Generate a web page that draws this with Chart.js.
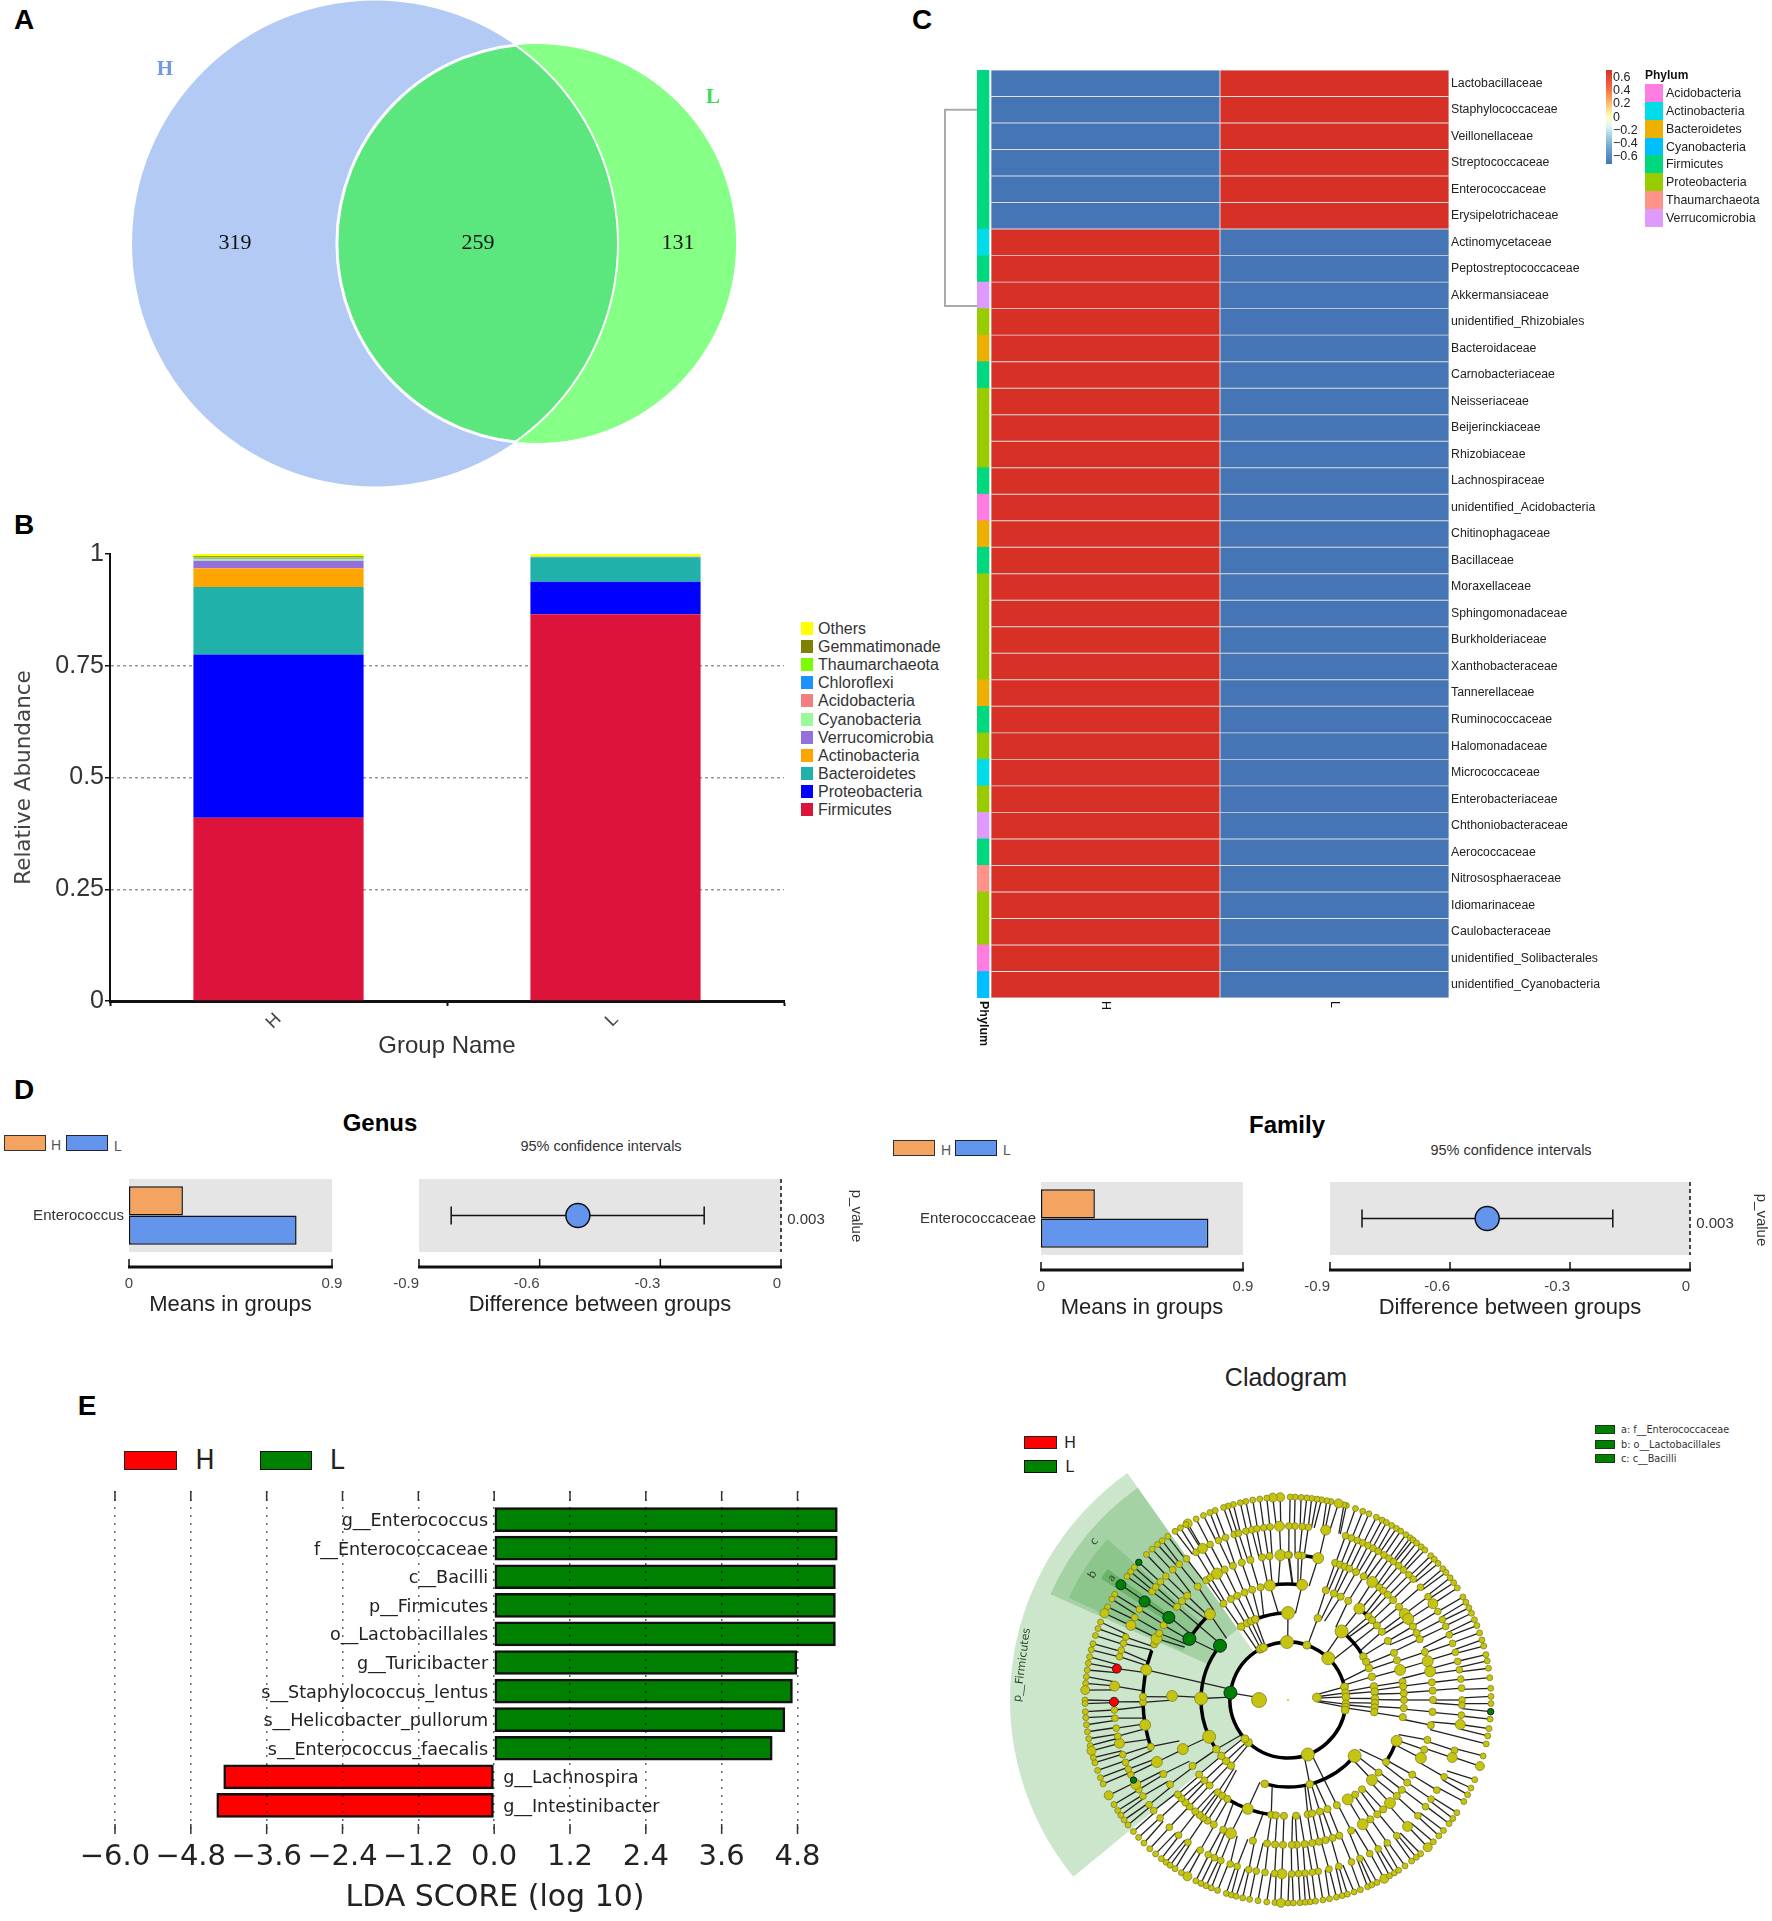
<!DOCTYPE html>
<html>
<head>
<meta charset="utf-8">
<script src="https://cdn.jsdelivr.net/npm/chart.js@4"></script>
<style>
  html, body { margin: 0; background: #fff; }
  #page { position: relative; width: 1772px; height: 1921px; overflow: hidden; }
  canvas { position: absolute; }
  .t { position: absolute; white-space: nowrap; transform: translate(-50%, -50%); }
  .s { position: absolute; box-sizing: border-box; }
</style>
</head>
<body>
<div id="page"></div>
<script>
// panel A
const vennOnlyH = 319;
const vennShared = 259;
const vennOnlyL = 131;

// panel B
const groups = ['H', 'L'];
const phyla = ['Firmicutes', 'Proteobacteria', 'Bacteroidetes', 'Actinobacteria', 'Verrucomicrobia', 'Cyanobacteria', 'Acidobacteria', 'Chloroflexi', 'Thaumarchaeota', 'Gemmatimonade', 'Others'];
const abundanceH = [0.41, 0.365, 0.151, 0.042, 0.017, 0.004, 0.001, 0.001, 0.001, 0.003, 0.005];
const abundanceL = [0.865, 0.073, 0.055, 0.0005, 0.0003, 0.0001, 0.0001, 0, 0, 0, 0.006];
const phylaColors = ['#dc143c', '#0000ff', '#20b2aa', '#ffa500', '#9370db', '#98fb98', '#f08080', '#1e90ff', '#7cfc00', '#808000', '#ffff00'];
const abundanceTicks = [0, 0.25, 0.5, 0.75, 1];

// panel C
const families = ['Lactobacillaceae', 'Staphylococcaceae', 'Veillonellaceae', 'Streptococcaceae', 'Enterococcaceae', 'Erysipelotrichaceae', 'Actinomycetaceae', 'Peptostreptococcaceae', 'Akkermansiaceae', 'unidentified_Rhizobiales', 'Bacteroidaceae', 'Carnobacteriaceae', 'Neisseriaceae', 'Beijerinckiaceae', 'Rhizobiaceae', 'Lachnospiraceae', 'unidentified_Acidobacteria', 'Chitinophagaceae', 'Bacillaceae', 'Moraxellaceae', 'Sphingomonadaceae', 'Burkholderiaceae', 'Xanthobacteraceae', 'Tannerellaceae', 'Ruminococcaceae', 'Halomonadaceae', 'Micrococcaceae', 'Enterobacteriaceae', 'Chthoniobacteraceae', 'Aerococcaceae', 'Nitrososphaeraceae', 'Idiomarinaceae', 'Caulobacteraceae', 'unidentified_Solibacterales', 'unidentified_Cyanobacteria'];
const familyPhylum = ['Firmicutes', 'Firmicutes', 'Firmicutes', 'Firmicutes', 'Firmicutes', 'Firmicutes', 'Actinobacteria', 'Firmicutes', 'Verrucomicrobia', 'Proteobacteria', 'Bacteroidetes', 'Firmicutes', 'Proteobacteria', 'Proteobacteria', 'Proteobacteria', 'Firmicutes', 'Acidobacteria', 'Bacteroidetes', 'Firmicutes', 'Proteobacteria', 'Proteobacteria', 'Proteobacteria', 'Proteobacteria', 'Bacteroidetes', 'Firmicutes', 'Proteobacteria', 'Actinobacteria', 'Proteobacteria', 'Verrucomicrobia', 'Firmicutes', 'Thaumarchaeota', 'Proteobacteria', 'Proteobacteria', 'Acidobacteria', 'Cyanobacteria'];
const heatH = [-0.7, -0.7, -0.7, -0.7, -0.7, -0.7, 0.7, 0.7, 0.7, 0.7, 0.7, 0.7, 0.7, 0.7, 0.7, 0.7, 0.7, 0.7, 0.7, 0.7, 0.7, 0.7, 0.7, 0.7, 0.7, 0.7, 0.7, 0.7, 0.7, 0.7, 0.7, 0.7, 0.7, 0.7, 0.7];
const heatL = [0.7, 0.7, 0.7, 0.7, 0.7, 0.7, -0.7, -0.7, -0.7, -0.7, -0.7, -0.7, -0.7, -0.7, -0.7, -0.7, -0.7, -0.7, -0.7, -0.7, -0.7, -0.7, -0.7, -0.7, -0.7, -0.7, -0.7, -0.7, -0.7, -0.7, -0.7, -0.7, -0.7, -0.7, -0.7];
const phylumKeys = ['Acidobacteria', 'Actinobacteria', 'Bacteroidetes', 'Cyanobacteria', 'Firmicutes', 'Proteobacteria', 'Thaumarchaeota', 'Verrucomicrobia'];
const phylumKeyColors = ['#ff7ce0', '#00dde8', '#eeb000', '#00bfff', '#00d880', '#99cc00', '#ff9289', '#df9bfb'];
const colorbarTicks = ['0.6', '0.4', '0.2', '0', '\u22120.2', '\u22120.4', '\u22120.6'];

// panel D
const meansTicks = [0, 0.9];
const meansTickLabels = ['0', '0.9'];
const diffTicks = [-0.9, -0.6, -0.3, 0];
const diffTickLabels = ['-0.9', '-0.6', '-0.3', '0'];
const genusMeans = [0.239, 0.743];
const genusDiff = [-0.82, -0.505, -0.191];
const familyMeans = [0.24, 0.746];
const familyDiff = [-0.82, -0.507, -0.193];
const pValue = '0.003';

// panel E
const ldaNames = ['g__Enterococcus', 'f__Enterococcaceae', 'c__Bacilli', 'p__Firmicutes', 'o__Lactobacillales', 'g__Turicibacter', 's__Staphylococcus_lentus', 's__Helicobacter_pullorum', 's__Enterococcus_faecalis', 'g__Lachnospira', 'g__Intestinibacter'];
const ldaScores = [5.43, 5.43, 5.40, 5.40, 5.40, 4.79, 4.72, 4.60, 4.40, -4.28, -4.39];
const ldaTicks = [-6, -4.8, -3.6, -2.4, -1.2, 0, 1.2, 2.4, 3.6, 4.8];
const ldaTickLabels = ['\u22126.0', '\u22124.8', '\u22123.6', '\u22122.4', '\u22121.2', '0.0', '1.2', '2.4', '3.6', '4.8'];

// cladogram: node angles in degrees, one list per ring
const ringAngles = [
  [5, 180],
  [91, 71, 46, 13, 7, 3, 356, 353, 350, 290, 227, 222, 173, 119, 118, 115],
  [90, 70, 52, 30, 26, 21.5, 15.5, 9, 5.5, 1, 358, 355, 352, 320, 284.5, 254.5, 229, 224.5, 220, 214.5, 205, 179, 141, 122.5, 118, 115, 112],
  [83, 99, 103.7, 108, 112, 116, 119.5, 123.8, 132.3, 148, 178, 205, 214.6, 220, 223.9, 227.5, 232.8, 235.6, 238.5, 249.7, 261.7, 264, 268, 274, 279.8, 282, 285.9, 289.9, 294.9, 301, 305.4, 309.6, 316.4, 321.3, 327.7, 339.4, 71, 66.7, 63, 58.7, 52, 46, 43.5, 40, 36, 30.6, 24, 20, 15, 9, 6.7, 3.3, 0, 356, 351.5],
  [78, 84.4, 86, 89.6, 71, 69, 67, 65, 62, 58.5, 54.5, 51, 48.9, 46.5, 43.5, 40, 36.4, 34, 30.5, 27.5, 24.8, 19.3, 15.5, 11.4, 7, 3.7, 0, 355.3, 350, 344, 340, 336.4, 329, 325.3, 321.7, 318.6, 314.7, 311, 308, 304.6, 301, 295.8, 290.7, 287.9, 285, 282.3, 279.6, 276.6, 273.5, 271.5, 268, 264.9, 261.7, 256, 246.8, 243.5, 239.2, 236.3, 234.2, 232.4, 230.2, 227.3, 225, 222.7, 220.6, 215.6, 210.7, 205.3, 198.8, 189.9, 180.9, 178.7, 168, 157.4, 155, 152.6, 149, 145, 140, 137, 134, 128.5, 124.3, 122.3, 119.3, 115.9, 112.3, 108.6, 105, 100.3, 97.3, 93, 90],
  [77.5, 83.3, 85.3, 87.7, 89.7, 70.7, 68.6, 66.5, 64.6, 62.6, 60.7, 58.8, 56.5, 54.5, 52.7, 50.5, 48.4, 46, 44, 40.4, 36.4, 33.6, 30.6, 27.5, 25, 22, 19, 15.9, 12.8, 10, 6.9, 3.9, 0, 358.3, 355, 351.9, 343.2, 340.7, 333.8, 328.8, 325.3, 322.2, 318.3, 313.4, 308.7, 304.8, 301.2, 298, 294.4, 291.4, 287, 283.6, 280, 278, 275.6, 273.5, 271.2, 268, 265.6, 262.4, 259.5, 257, 253, 250.6, 247.3, 245, 242.7, 239.7, 234.9, 231, 227, 222.7, 219.5, 217, 213.5, 211, 209, 205.4, 203.4, 201, 198.3, 194.4, 192, 189.3, 186, 183.3, 180.6, 175.4, 169.6, 165.6, 163.4, 161, 158.8, 154.6, 151.7, 148.6, 145.5, 141.4, 139.5, 137.2, 134.6, 131.5, 128.7, 125.7, 121.9, 119.4, 116.6, 113.5, 111, 108, 106.5, 104, 102, 100.3, 98, 95.9, 92.8],
  [73.3, 74, 75.6, 77.8, 79, 80.5, 81.8, 83.3, 84.7, 86.3, 88, 89.4, 70.6, 68.4, 66.5, 64.2, 62.4, 61, 59.3, 57.7, 56.3, 54.5, 53, 52, 50.7, 49, 47.6, 45.3, 43.9, 42.3, 40.3, 38.9, 37, 35.3, 33.5, 30.5, 28.8, 27, 25.3, 23.3, 21.5, 19.3, 17.2, 15.4, 12.9, 11.1, 9, 6.3, 3.3, 1, 92.2, 94.3, 96, 98, 100, 102, 103.6, 105.6, 107.1, 108.5, 111, 112.6, 114.6, 116.9, 119.6, 120.2, 122, 123.8, 126.3, 128.3, 130, 132, 134.2, 137.3, 139.2, 140.8, 142.5, 145.4, 148.6, 150.2, 152.7, 154.7, 157.4, 159.4, 161.5, 163.9, 165.7, 167.7, 169.6, 171.5, 173.4, 175.3, 177.2, 180, 181, 183.3, 185, 187, 189, 191, 193, 194.5, 196.5, 198, 200.3, 202.5, 204.4, 208, 211, 213, 214.6, 216.2, 218, 220.4, 222.6, 224.8, 227.1, 229.3, 231.4, 233.1, 234.5, 236.2, 238.3, 240.3, 243, 244.6, 246.2, 247.8, 249.7, 252.3, 253.8, 255.2, 257.1, 259.1, 261.5, 264, 266.3, 268, 270, 271.5, 273.4, 274.9, 276.3, 277.8, 279.9, 281.8, 283.8, 285.5, 287, 289, 290.9, 293.1, 294.4, 296, 298.3, 300, 301.6, 303, 305.2, 307.5, 309.2, 310.8, 313.5, 315.7, 318, 320, 322.5, 324.3, 326.3, 330, 332.2, 334.3, 336.9, 341, 344, 347.5, 349.8, 351.9, 354.6, 356.7, 359]
];
const ringBigAngles = [
  [180],
  [91, 46, 290],
  [90, 52, 320, 205, 179],
  [83, 99, 52, 15, 178, 205, 249.7, 301, 316.4, 339.4, 132.3],
  [78, 93, 54.5, 36.4, 34, 15.5, 11.4, 168, 189.9, 205.3, 246.8, 301, 314.7, 336.4, 119.3, 155],
  [77.5, 92.8, 33.6, 194.4, 209, 268, 313.4, 340.7, 351.9, 119.4, 154.6, 175.4],
  [75.6, 92.2, 94.3, 119.6, 154.7, 177.2, 194.5, 208, 240.3, 268, 298.3, 313.5, 341]
];
const greenNodes = [[1, 172.8], [2, 141.4], [3, 148.2], [4, 145.3], [5, 145.5], [6, 145.4], [6, 137.3], [5, 207.4], [6, 356.7]];
const greenSizes = [6.5, 6.5, 6.5, 6, 5.5, 5, 3.2, 3.2, 3.2];
const redNodes = [[5, 169.6], [5, 180.6]];
const thickArcs = [[1, 13, 119], [1, 119, 222], [1, 222, 352], [2, 30, 52], [2, 92, 112], [2, 141, 179], [2, 179, 205], [2, 205, 215], [2, 254.5, 320], [3, 84, 99], [3, 40, 52], [3, 132.3, 148], [3, 238.5, 262], [3, 327.7, 339.4], [4, 160, 181], [4, 181, 199], [4, 78, 85]];
const cladeSectors = [
  { ring: 1, outer: 278, from: 125.3, to: 219.5, alpha: 0.2 },
  { ring: 2, outer: 260, from: 125.3, to: 156, alpha: 0.2 },
  { ring: 3, outer: 242, from: 138.3, to: 155, alpha: 0.15 },
  { ring: 4, outer: 223, from: 144, to: 147, alpha: 0.25 }
];
const cladeLabels = [['p__Firmicutes', 268, 172.5, 11], ['c', 250, 140.7, 11], ['b', 232, 147.3, 11], ['a', 214, 145.3, 10]];
const cladeKey = ['a: f__Enterococcaceae', 'b: o__Lactobacillales', 'c: c__Bacilli'];

const SANS = '"Liberation Sans"';
const page = document.getElementById('page');

Chart.defaults.animation = false;
Chart.defaults.responsive = false;
Chart.defaults.font.family = SANS;
Chart.defaults.layout.autoPadding = false;
Chart.defaults.plugins.legend.display = false;
Chart.defaults.plugins.tooltip.enabled = false;

function addCanvas(left, top, w, h) {
  const c = document.createElement('canvas');
  c.width = w; c.height = h;
  c.style.left = left + 'px'; c.style.top = top + 'px';
  page.appendChild(c);
  return c;
}
function text(str, x, y, size, opts) {
  const o = opts || {};
  const d = document.createElement('div');
  d.className = 't';
  d.textContent = str;
  d.style.left = x + 'px'; d.style.top = y + 'px';
  d.style.font = (o.weight || 'normal') + ' ' + size + 'px ' + (o.family || SANS);
  d.style.color = o.color || '#222';
  if (o.left) d.style.transform = 'translate(0,-50%)';
  if (o.rotate) d.style.transform = 'translate(-50%,-50%) rotate(' + o.rotate + 'deg)';
  page.appendChild(d);
}
function swatch(x, y, w, h, color, border) {
  const d = document.createElement('div');
  d.className = 's';
  d.style.cssText = 'left:' + x + 'px;top:' + y + 'px;width:' + w + 'px;height:' + h + 'px;background:' + color + ';' + (border ? 'border:1.5px solid ' + border + ';' : '');
  page.appendChild(d);
}
// fixes the axis box so the plot area lands where it should
const pin = size => s => {
  if (s.isHorizontal()) s.height = size; else s.width = size;
  s.paddingLeft = s.paddingRight = s.paddingTop = s.paddingBottom = 0;
};

// ---- panel letters
text('A', 24, 20, 28, { weight: 'bold', color: '#000' });
text('B', 24, 525, 28, { weight: 'bold', color: '#000' });
text('C', 922, 20, 28, { weight: 'bold', color: '#000' });
text('D', 24, 1090, 28, { weight: 'bold', color: '#000' });
text('E', 87, 1406, 28, { weight: 'bold', color: '#000' });

// ---- A: venn, circle area follows the set size
const vennScale = 10.107;
const rH = vennScale * Math.sqrt(vennOnlyH + vennShared);
const rL = vennScale * Math.sqrt(vennOnlyL + vennShared);
const vennHx = 375, vennLx = 536.5, vennCy = 243.5;
new Chart(addCanvas(0, 0, 800, 500), {
  type: 'bubble',
  data: {
    datasets: [
      { label: 'L', data: [{ x: vennLx, y: vennCy, r: rL }], backgroundColor: '#85ff85', borderWidth: 0, clip: false },
      { label: 'H', data: [{ x: vennHx, y: vennCy, r: rH }], backgroundColor: '#b2caf4', borderWidth: 0, clip: false }
    ]
  },
  options: {
    layout: { padding: 0 },
    scales: {
      x: { display: false, min: 0, max: 800 },
      y: { display: false, min: 0, max: 500, reverse: true }
    }
  },
  plugins: [{
    id: 'vennLens',
    afterDatasetsDraw(chart) {
      const { ctx, scales: { x, y } } = chart;
      const hx = x.getPixelForValue(vennHx), lx = x.getPixelForValue(vennLx), cy = y.getPixelForValue(vennCy);
      ctx.save();
      ctx.beginPath(); ctx.arc(hx, cy, rH, 0, Math.PI * 2); ctx.clip();
      ctx.beginPath(); ctx.arc(lx, cy, rL, 0, Math.PI * 2);
      ctx.fillStyle = '#5ce67e'; ctx.fill();
      ctx.strokeStyle = '#fff'; ctx.lineWidth = 3; ctx.stroke();
      ctx.restore();
      ctx.save();
      ctx.beginPath(); ctx.arc(lx, cy, rL, 0, Math.PI * 2); ctx.clip();
      ctx.beginPath(); ctx.arc(hx, cy, rH, 0, Math.PI * 2);
      ctx.strokeStyle = '#fff'; ctx.lineWidth = 2; ctx.stroke();
      ctx.restore();
      ctx.fillStyle = '#111';
      ctx.font = '22px "Liberation Serif"';
      ctx.textAlign = 'center'; ctx.textBaseline = 'middle';
      ctx.fillText(vennOnlyH, x.getPixelForValue(235), cy);
      ctx.fillText(vennShared, x.getPixelForValue(478), cy);
      ctx.fillText(vennOnlyL, x.getPixelForValue(678), cy);
    }
  }]
});
text('H', 165, 68, 21, { family: '"Liberation Serif"', color: '#6f9be0', weight: 'bold' });
text('L', 713, 96, 21, { family: '"Liberation Serif"', color: '#3be05a', weight: 'bold' });

// ---- B: stacked bars
new Chart(addCanvas(0, 540, 800, 530), {
  type: 'bar',
  data: {
    labels: groups,
    datasets: phyla.map((name, i) => ({
      label: name,
      data: [abundanceH[i], abundanceL[i]],
      backgroundColor: phylaColors[i],
      categoryPercentage: 1,
      barPercentage: 0.505
    }))
  },
  options: {
    layout: { padding: { top: 14, right: 16 } },
    scales: {
      x: {
        stacked: true,
        afterFit: pin(69),
        grid: { drawOnChartArea: false, tickLength: 5, tickColor: '#111', tickWidth: 2 },
        border: { color: '#111', width: 3 },
        ticks: { minRotation: 45, maxRotation: 45, color: '#444', font: { size: 18 }, padding: 3 },
        title: { display: true, text: 'Group Name', color: '#333', font: { size: 24 }, padding: { top: 0, bottom: 9 } }
      },
      y: {
        stacked: true,
        min: 0, max: 1,
        afterFit: pin(110),
        afterBuildTicks: s => { s.ticks = abundanceTicks.map(v => ({ value: v })); },
        grid: {
          color: c => (c.tick && c.tick.value > 0 && c.tick.value < 1 ? '#999' : 'rgba(0,0,0,0)'),
          tickColor: '#111', tickLength: 5, lineWidth: 1.5
        },
        border: { color: '#111', width: 2, dash: [3, 3] },
        ticks: { color: '#333', font: { size: 25 }, padding: 1, callback: v => String(v) },
        title: { display: true, text: 'Relative Abundance', color: '#444', font: { size: 21.5, family: '"DejaVu Sans"' }, padding: { top: 12, bottom: 0 } }
      }
    }
  }
});
phyla.slice().reverse().forEach((name, i) => {
  const row = phyla.length - 1 - i;
  swatch(801, 622 + i * 18.1, 12, 13, phylaColors[row]);
  text(name, 818, 629 + i * 18.1, 16, { left: true, color: '#333' });
});

// ---- C: heatmap drawn as floating horizontal bars
const heatColor = z => (z > 0 ? '#d73027' : '#4575b4');
const annotFrom = -0.061, annotTo = -0.0087;
new Chart(addCanvas(930, 60, 689, 990), {
  type: 'bar',
  data: {
    labels: families,
    datasets: [
      { label: 'H', data: heatH.map(() => [0, 1]), backgroundColor: heatH.map(heatColor), borderColor: 'rgba(170,170,175,0.3)', borderWidth: 0.8 },
      { label: 'L', data: heatL.map(() => [1, 2]), backgroundColor: heatL.map(heatColor), borderColor: 'rgba(170,170,175,0.3)', borderWidth: 0.8 },
      { label: 'Phylum', data: familyPhylum.map(() => [annotFrom, annotTo]), backgroundColor: familyPhylum.map(p => phylumKeyColors[phylumKeys.indexOf(p)]), borderWidth: 0 }
    ]
  },
  options: {
    indexAxis: 'y',
    layout: { padding: { left: 47, top: 10, bottom: 52 } },
    datasets: { bar: { grouped: false, categoryPercentage: 1, barPercentage: 1, borderSkipped: false } },
    scales: {
      x: { display: false, min: annotFrom, max: 2 },
      y: {
        position: 'right',
        afterFit: pin(170),
        grid: { display: false, drawTicks: false },
        border: { display: false },
        ticks: { autoSkip: false, color: '#222', font: { size: 12.3 }, padding: 2 }
      }
    }
  },
  plugins: [{
    id: 'heatExtras',
    afterDraw(chart) {
      const { ctx, chartArea, scales: { x, y } } = chart;
      // dendrogram bracket
      const y0 = y.getPixelForValue(1), y1 = y.getPixelForValue(8.4), xl = chartArea.left - 32;
      ctx.strokeStyle = '#aaa'; ctx.lineWidth = 2;
      ctx.beginPath();
      ctx.moveTo(chartArea.left, y0); ctx.lineTo(xl, y0); ctx.lineTo(xl, y1); ctx.lineTo(chartArea.left, y1);
      ctx.stroke();
      // column labels run downwards
      [['Phylum', (annotFrom + annotTo) / 2, 'bold'], ['H', 0.5, 'normal'], ['L', 1.5, 'normal']].forEach(([s, v, w]) => {
        ctx.save();
        ctx.translate(x.getPixelForValue(v), chartArea.bottom + 3);
        ctx.rotate(Math.PI / 2);
        ctx.font = w + ' 12.5px ' + SANS;
        ctx.fillStyle = '#111'; ctx.textAlign = 'left'; ctx.textBaseline = 'middle';
        ctx.fillText(s, 0, 0);
        ctx.restore();
      });
    }
  }]
});
const bar = document.createElement('div');
bar.className = 's';
bar.style.cssText = 'left:1606px;top:70px;width:6px;height:94px;background:linear-gradient(#d73027,#f46d43 20%,#fdae61 33%,#fee090 42%,#ffffbf 50%,#e0f3f8 60%,#abd9e9 68%,#74add1 80%,#4575b4);';
page.appendChild(bar);
colorbarTicks.forEach((s, i) => text(s, 1613, 77 + i * 13.2, 12.5, { left: true }));
text('Phylum', 1645, 75, 12, { left: true, weight: 'bold', color: '#111' });
phylumKeys.forEach((name, i) => {
  swatch(1645, 84 + i * 17.85, 18, 17.85, phylumKeyColors[i]);
  text(name, 1666, 93 + i * 17.85, 12.4, { left: true });
});

// ---- D: means and confidence interval pairs
function offsetAxis(extra) {
  return {
    id: 'offsetAxis',
    beforeDatasetsDraw(chart) {
      const { ctx, chartArea: a } = chart;
      ctx.fillStyle = '#e5e5e5';
      ctx.fillRect(a.left, a.top, a.right - a.left, a.bottom - a.top);
    },
    afterDraw(chart) {
      const { ctx, chartArea: a, scales: { x } } = chart;
      const ly = a.bottom + 15;
      ctx.strokeStyle = '#111'; ctx.lineWidth = 3;
      ctx.beginPath(); ctx.moveTo(a.left - 1, ly); ctx.lineTo(a.right + 1, ly); ctx.stroke();
      ctx.lineWidth = 1.5;
      x.ticks.forEach(t => {
        const px = x.getPixelForValue(t.value);
        ctx.beginPath(); ctx.moveTo(px, ly); ctx.lineTo(px, ly - 8); ctx.stroke();
      });
      if (extra) {
        const px = x.getPixelForValue(0);
        ctx.setLineDash([4, 3]); ctx.lineWidth = 1.5;
        ctx.beginPath(); ctx.moveTo(px, a.top); ctx.lineTo(px, a.bottom); ctx.stroke();
        ctx.setLineDash([]);
      }
    }
  };
}
function lowerAxis(ticks, labels, title, align) {
  return {
    min: ticks[0], max: ticks[ticks.length - 1],
    afterFit: pin(68),
    afterBuildTicks: s => { s.ticks = ticks.map(v => ({ value: v })); },
    grid: { display: false, drawTicks: false },
    border: { display: false },
    ticks: { autoSkip: false, maxRotation: 0, align: align, color: '#444', font: { size: 15 }, padding: 23, callback: (v, i) => labels[i] },
    title: { display: true, text: title, color: '#222', font: { size: 22 }, padding: { top: 0, bottom: 2 } }
  };
}
function meansChart(left, top, padRight, name, values) {
  new Chart(addCanvas(left, top, 345, 160), {
    type: 'bar',
    data: {
      labels: [name],
      datasets: [
        { label: 'H', data: [values[0]], backgroundColor: '#f4a460', borderColor: '#111', borderWidth: 1.5, borderSkipped: false, categoryPercentage: 0.8, barPercentage: 1 },
        { label: 'L', data: [values[1]], backgroundColor: '#6495ed', borderColor: '#111', borderWidth: 1.5, borderSkipped: false, categoryPercentage: 0.8, barPercentage: 1 }
      ]
    },
    options: {
      indexAxis: 'y',
      layout: { padding: { top: 19, right: padRight } },
      scales: {
        x: lowerAxis(meansTicks, meansTickLabels, 'Means in groups'),
        y: {
          afterFit: pin(129),
          grid: { display: false, drawTicks: false },
          border: { display: false },
          ticks: { color: '#333', font: { size: 15 }, padding: 5 }
        }
      }
    },
    plugins: [offsetAxis(false)]
  });
}
function diffChart(left, top, padLeft, padRight, values) {
  new Chart(addCanvas(left, top, 440, 160), {
    type: 'scatter',
    data: {
      datasets: [
        { label: 'difference', data: [{ x: values[1], y: 0.5 }], pointRadius: 12, backgroundColor: '#6495ed', borderColor: '#111', borderWidth: 1.5 },
        { label: '95% CI', data: [{ x: values[0], y: 0.5 }, { x: values[2], y: 0.5 }], showLine: true, borderColor: '#111', borderWidth: 1.5, pointStyle: 'line', rotation: 90, pointRadius: 9, pointBorderColor: '#111', pointBorderWidth: 1.5 }
      ]
    },
    options: {
      layout: { padding: { left: padLeft, right: padRight, top: 19 } },
      scales: {
        x: lowerAxis(diffTicks, diffTickLabels, 'Difference between groups', 'end'),
        y: { display: false, min: 0, max: 1 }
      }
    },
    plugins: [offsetAxis(true)]
  });
}

text('Genus', 380, 1123, 24, { weight: 'bold', color: '#000' });
swatch(4, 1135, 42, 16, '#f4a460', '#333');
text('H', 56, 1145, 14, { color: '#555' });
swatch(66, 1135, 42, 16, '#6495ed', '#223');
text('L', 118, 1146, 14, { color: '#555' });
text('95% confidence intervals', 601, 1146, 14.5, { color: '#333' });
meansChart(0, 1160, 13, 'Enterococcus', genusMeans);
diffChart(360, 1160, 59, 19, genusDiff);
text(pValue, 806, 1218, 15, { color: '#333' });
text('p_value', 857, 1216, 15, { color: '#333', rotate: 90 });

text('Family', 1287, 1125, 24, { weight: 'bold', color: '#000' });
swatch(893, 1140, 42, 16, '#f4a460', '#333');
text('H', 946, 1150, 14, { color: '#555' });
swatch(955, 1140, 42, 16, '#6495ed', '#223');
text('L', 1007, 1150, 14, { color: '#555' });
text('95% confidence intervals', 1511, 1150, 14.5, { color: '#333' });
meansChart(912, 1163, 14, 'Enterococcaceae', familyMeans);
diffChart(1271, 1163, 59, 21, familyDiff);
text(pValue, 1715, 1222, 15, { color: '#333' });
text('p_value', 1762, 1220, 15, { color: '#333', rotate: 90 });

// ---- E: LDA bars
const ldaRows = ldaScores.map((v, i) => ({ x: v, y: i }));
swatch(124, 1451, 53, 19, '#ff0000', '#222');
text('H', 205, 1460, 26, { family: '"DejaVu Sans"' });
swatch(260, 1451, 52, 19, '#008000', '#111');
text('L', 337, 1460, 26, { family: '"DejaVu Sans"' });
new Chart(addCanvas(60, 1480, 800, 440), {
  type: 'bar',
  data: {
    datasets: [
      { label: 'L', data: ldaRows.filter(p => p.x > 0), backgroundColor: '#008000' },
      { label: 'H', data: ldaRows.filter(p => p.x < 0), backgroundColor: '#ff0000' }
    ]
  },
  options: {
    indexAxis: 'y',
    layout: { padding: { left: 55, top: 11, right: 17 } },
    datasets: { bar: { grouped: false, barThickness: 24, borderColor: '#111', borderWidth: 2.5, borderSkipped: false } },
    scales: {
      x: {
        type: 'linear', min: -6, max: 5.52,
        afterFit: pin(86),
        afterBuildTicks: s => { s.ticks = ldaTicks.map(v => ({ value: v })); },
        grid: { color: 'rgba(0,0,0,0.6)', lineWidth: 1.5, drawTicks: false, z: 1 },
        border: { display: false, dash: [2, 6] },
        ticks: { autoSkip: false, maxRotation: 0, color: '#222', font: { size: 29, family: '"DejaVu Sans"' }, padding: 6, callback: (v, i) => ldaTickLabels[i] }
      },
      y: { type: 'linear', display: false, offset: false, min: -1, max: 11, reverse: true }
    }
  },
  plugins: [{
    id: 'ldaLabels',
    afterDraw(chart) {
      const { ctx, chartArea: a, scales: { x, y } } = chart;
      ctx.strokeStyle = '#333'; ctx.lineWidth = 1.5;
      x.ticks.forEach(t => {
        const px = x.getPixelForValue(t.value);
        ctx.beginPath(); ctx.moveTo(px, a.top); ctx.lineTo(px, a.top + 10);
        ctx.moveTo(px, a.bottom - 10); ctx.lineTo(px, a.bottom); ctx.stroke();
      });
      const zero = x.getPixelForValue(0);
      ctx.font = '17.6px "DejaVu Sans"'; ctx.fillStyle = '#222'; ctx.textBaseline = 'middle';
      ldaNames.forEach((name, i) => {
        const up = ldaScores[i] > 0;
        ctx.textAlign = up ? 'right' : 'left';
        ctx.fillText(name, zero + (up ? -6 : 9), y.getPixelForValue(i) + 2);
      });
    }
  }]
});
text('LDA SCORE (log 10)', 495, 1895, 30, { family: '"DejaVu Sans"' });

// ---- cladogram
text('Cladogram', 1286, 1377, 25);
swatch(1024, 1436, 33, 13, '#ff0000', '#222');
text('H', 1070, 1443, 16);
swatch(1024, 1460, 33, 13, '#008000', '#111');
text('L', 1070, 1467, 16);
cladeKey.forEach((s, i) => {
  swatch(1595, 1425 + i * 14.5, 20, 9, '#008000', '#1a3a1a');
  text(s, 1621, 1429 + i * 14.5, 9.7, { left: true, color: '#333', family: '"DejaVu Sans"' });
});

const ringRadius = [29, 58, 87, 116, 145, 174, 203];
const normalSize = [4.5, 4, 3.8, 3.6, 3.6, 3.4, 3];
const bigSize = [7.5, 6.5, 6.5, 5.5, 5.5, 5, 4.5];
const rad = d => d * Math.PI / 180;
const polar = (r, deg) => ({ x: r * Math.cos(rad(deg)), y: r * Math.sin(rad(deg)) });
const gap = (a, b) => { const d = Math.abs(a - b) % 360; return d > 180 ? 360 - d : d; };
const edgeReach = [0, 12, 12, 9, 7, 5, 4];

// each node hangs off the closest node further in, running close to radial
function cladeEdges() {
  const edges = [];
  ringAngles.forEach((angles, ring) => {
    if (!ring) return;
    angles.forEach(a => {
      for (let inner = ring - 1; inner >= 0; inner--) {
        const best = ringAngles[inner].reduce((m, b) => (gap(a, b) < gap(a, m) ? b : m));
        if (gap(a, best) <= edgeReach[ring]) {
          const delta = ((best - a + 540) % 360) - 180;
          edges.push([polar(ringRadius[ring], a), polar(ringRadius[inner], a + delta * 0.3)]);
          break;
        }
      }
    });
  });
  return edges;
}
const edges = cladeEdges();

new Chart(addCanvas(1000, 1400, 520, 520), {
  type: 'scatter',
  data: {
    datasets: [
      { label: 'L', data: greenNodes.map(([r, a]) => polar(ringRadius[r], a)), pointRadius: greenSizes, backgroundColor: '#008000', borderColor: '#123', borderWidth: 1 },
      { label: 'H', data: redNodes.map(([r, a]) => polar(ringRadius[r], a)), pointRadius: 4.5, backgroundColor: '#ff0000', borderColor: '#222', borderWidth: 1 }
    ].concat(ringAngles.map((angles, ring) => ({
      label: 'ring ' + ring,
      data: angles.map(a => polar(ringRadius[ring], a)),
      pointRadius: angles.map(a => (ringBigAngles[ring].includes(a) ? bigSize[ring] : normalSize[ring])),
      backgroundColor: '#c4c411', borderColor: '#77771c', borderWidth: 0.7
    })), [{ label: 'root', data: [{ x: 0, y: 0 }], pointRadius: 1, backgroundColor: '#c4c411', borderWidth: 0 }])
  },
  options: {
    layout: { padding: 0 },
    scales: {
      x: { display: false, min: -288, max: 232 },
      y: { display: false, min: -220, max: 300 }
    }
  },
  plugins: [{
    id: 'cladeTree',
    beforeDatasetsDraw(chart) {
      const { ctx, scales: { x, y } } = chart;
      const cx = x.getPixelForValue(0), cy = y.getPixelForValue(0);
      cladeSectors.forEach(s => {
        ctx.beginPath();
        ctx.arc(cx, cy, s.outer, rad(-s.from), rad(-s.to), true);
        ctx.arc(cx, cy, ringRadius[s.ring], rad(-s.to), rad(-s.from), false);
        ctx.closePath();
        ctx.fillStyle = 'rgba(0,128,0,' + s.alpha + ')';
        ctx.fill();
      });
      cladeLabels.forEach(([s, r, a, size]) => {
        const p = polar(r, a);
        ctx.save();
        ctx.translate(x.getPixelForValue(p.x), y.getPixelForValue(p.y));
        ctx.rotate(rad(90 - a));
        ctx.font = size + 'px "DejaVu Sans"';
        ctx.fillStyle = '#2c4a2c'; ctx.textAlign = 'center'; ctx.textBaseline = 'middle';
        ctx.fillText(s, 0, 0);
        ctx.restore();
      });
      ctx.strokeStyle = '#222'; ctx.lineWidth = 1.3;
      edges.forEach(([p, q]) => {
        ctx.beginPath();
        ctx.moveTo(x.getPixelForValue(p.x), y.getPixelForValue(p.y));
        ctx.lineTo(x.getPixelForValue(q.x), y.getPixelForValue(q.y));
        ctx.stroke();
      });
      ctx.strokeStyle = '#000'; ctx.lineWidth = 3.5;
      thickArcs.forEach(([ring, from, to]) => {
        ctx.beginPath();
        ctx.arc(cx, cy, ringRadius[ring], rad(-from), rad(-to), true);
        ctx.stroke();
      });
    }
  }]
});
</script>
</body>
</html>
